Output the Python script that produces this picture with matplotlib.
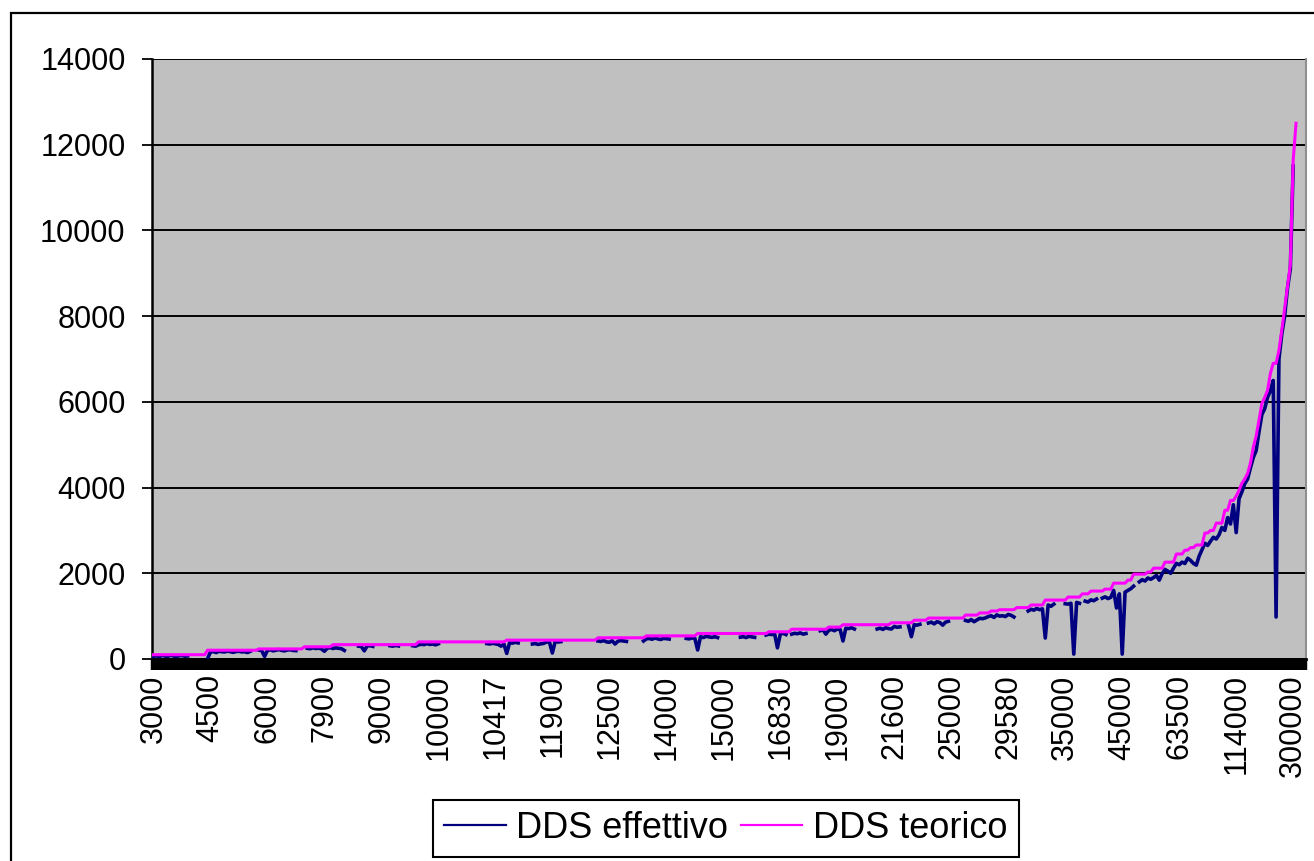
import numpy as np
import matplotlib
matplotlib.use('Agg')
import matplotlib.pyplot as plt
from matplotlib import font_manager
from matplotlib.patches import Rectangle

# ---------------- data ----------------
n_categories = 405
label_step = 20
x_labels = ['3000', '4500', '6000', '7900', '9000', '10000', '10417', '11900',
            '12500', '14000', '15000', '16830', '19000', '21600', '25000',
            '29580', '35000', '45000', '63500', '114000', '300000']

# DDS teorico: step levels (category index where a level starts, level value)
teo_start = [0, 19, 37, 53, 63, 93, 124, 156, 173, 191, 216, 224, 237, 242,
             259, 267, 272, 285, 290, 294, 297, 303, 308, 313, 321, 326, 329,
             334, 337, 342, 344, 349, 351, 355, 359, 362, 364, 366, 369, 371,
             373, 376, 378, 380, 381, 382, 383, 384, 385, 386, 387, 388, 389,
             390, 391, 392, 393, 395, 396, 397, 398, 399, 400, 401]
teo_level = [100, 205, 235, 285, 335, 400, 440, 495, 540, 595, 635, 695, 745,
             800, 845, 905, 955, 1025, 1075, 1120, 1150, 1200, 1260, 1375,
             1445, 1520, 1585, 1630, 1770, 1840, 1980, 2030, 2120, 2260, 2450,
             2540, 2600, 2660, 2940, 3000, 3170, 3470, 3700, 3800, 3940, 4100,
             4200, 4330, 4570, 4940, 5200, 5570, 5960, 6100, 6270, 6660, 6900,
             7200, 7670, 8180, 8680, 9200, 11640, 12500]
teo_end = 402

# DDS effettivo: runs of observed values (start index, values); gaps = no data
eff_start = [0, 19, 32, 37, 54, 72, 83, 91, 117, 133, 138, 156, 172, 187, 206,
             215, 224, 234, 240, 254, 265, 272, 285, 298, 307, 320, 327, 333,
             346, 359]
eff_values = [
    [60, 75, 55, 80, 70, 60, 85, 70, 55, 75, 80, 65, 70],
    [10, 160, 175, 150, 180, 170, 165, 185, 170, 155, 175, 180, 165],
    [170, 150, 180],
    [210, 195, 60, 200, 215, 190, 205, 220, 200, 190, 210, 215, 200, 195],
    [250, 240, 260, 245, 255, 235, 180, 250, 265, 245, 260, 250, 240, 200],
    [300, 290, 190, 305, 310, 295],
    [310, 300, 315, 305],
    [310, 300, 330, 345, 335, 360, 340, 350, 330, 355],
    [360, 350, 365, 355, 340, 300, 350, 130, 380, 370, 390, 375],
    [350, 360, 340, 355, 365],
    [400, 390, 140, 410, 395, 405],
    [420, 410, 430, 400, 390, 425, 350, 415, 430, 420, 410],
    [420, 470, 480, 460, 490, 470, 455, 480, 475, 465],
    [480, 470, 490, 485, 210, 520, 500, 530, 515, 505, 520, 500],
    [510, 520, 500, 530, 515, 505],
    [560, 580, 570, 590, 260, 580, 600, 570],
    [580, 600, 590, 610, 580, 595],
    [660, 680, 580, 670, 690, 660],
    [700, 690, 420, 720, 710, 730, 700],
    [700, 720, 690, 730, 710, 700, 760, 740, 750],
    [780, 520, 800, 790, 810],
    [840, 860, 820, 870, 850, 790, 860, 880],
    [900, 880, 920, 870, 910, 950, 940, 960, 990, 1010, 970, 1030, 1000],
    [1010, 990, 1040, 1020, 980],
    [1120, 1160, 1140, 1180, 1150, 1170, 490, 1260, 1230, 1280],
    [1290, 1280, 1300, 115, 1320, 1300],
    [1350, 1330, 1380, 1360, 1400],
    [1420, 1450, 1410, 1440, 1600, 1190, 1520, 115, 1560, 1600, 1640, 1700],
    [1800, 1850, 1820, 1890, 1860, 1900, 1950, 1840, 1990, 2090, 2050, 2000, 2120],
    [2230, 2200, 2260, 2230, 2350, 2300, 2230, 2190, 2400, 2550,
     2700, 2650, 2750, 2840, 2800, 2900, 3070, 3000, 3300, 3150,
     3600, 2950, 3740, 3900, 4090, 4200, 4460, 4700, 4860, 5300,
     5700, 5840, 6100, 6260, 6500, 980, 7000, 7580, 8000, 8650,
     9100, 11500],
]

y_ticks = [0, 2000, 4000, 6000, 8000, 10000, 12000, 14000]

# ---------------- build series ----------------
idx = np.arange(n_categories)
teo = np.full(n_categories, np.nan)
bounds = teo_start[1:] + [teo_end]
for s, e, v in zip(teo_start, bounds, teo_level):
    teo[s:e] = v
eff = np.full(n_categories, np.nan)
for s, vals in zip(eff_start, eff_values):
    eff[s:s + len(vals)] = vals

# ---------------- fonts ----------------
names = {f.name for f in font_manager.fontManager.ttflist}
main_font = 'Liberation Sans' if 'Liberation Sans' in names else 'DejaVu Sans'
narrow_font = 'Liberation Sans Narrow' if 'Liberation Sans Narrow' in names else main_font
plt.rcParams['font.family'] = [main_font]

# ---------------- figure ----------------
W, H = 1314, 861
fig = plt.figure(figsize=(W / 100, H / 100), dpi=100, facecolor='white')
ax = fig.add_axes([152 / W, 1 - 659 / H, (1306 - 152) / W, (659 - 59) / H])
ax.set_facecolor('#C0C0C0')

ax.plot(idx, eff, color='#000080', lw=2.6, label='DDS effettivo', zorder=3)
ax.plot(idx, teo, color='#FF00FF', lw=2.2, label='DDS teorico', zorder=4)

ax.set_xlim(-0.5, n_categories - 0.5)
ax.set_ylim(0, 14000)
ax.set_yticks(y_ticks)
ax.set_yticklabels([str(v) for v in y_ticks], fontsize=22, fontfamily=main_font)
ax.yaxis.grid(True, color='black', lw=1.4)
ax.set_axisbelow(True)
ax.tick_params(axis='y', direction='out', length=7, width=1.3, pad=12, color='black')

ax.set_xticks(idx)
labels = []
for i in idx:
    labels.append(x_labels[i // label_step] if i % label_step == 0 and i // label_step < len(x_labels) else '')
ax.set_xticklabels(labels, rotation=90, fontsize=22, fontfamily=narrow_font,
                   ha='center', va='top')
ax.tick_params(axis='x', direction='out', length=8, width=3.2, pad=3, color='black')

ax.spines['left'].set_color('black')
ax.spines['left'].set_linewidth(1.8)
ax.spines['bottom'].set_color('black')
ax.spines['bottom'].set_linewidth(2.0)
ax.spines['top'].set_visible(False)
ax.spines['right'].set_color('#909090')
ax.spines['right'].set_linewidth(1.5)

# outer chart border
fig.add_artist(Rectangle((11 / W, -0.05), 1.2, 1 - 13 / H + 0.05,
                         transform=fig.transFigure, fill=False,
                         edgecolor='black', lw=1.6))

leg = fig.legend(loc='center', bbox_to_anchor=(726 / W, 1 - 828.5 / H), ncol=2,
                 fontsize=26, frameon=True, fancybox=False, framealpha=1,
                 edgecolor='black', handlelength=1.7, handletextpad=0.3,
                 columnspacing=0.35, borderpad=0.3, borderaxespad=0)
leg.get_frame().set_linewidth(1.5)
for line in leg.get_lines():
    line.set_linewidth(1.6)

fig.savefig('out.png', dpi=100, facecolor='white')
